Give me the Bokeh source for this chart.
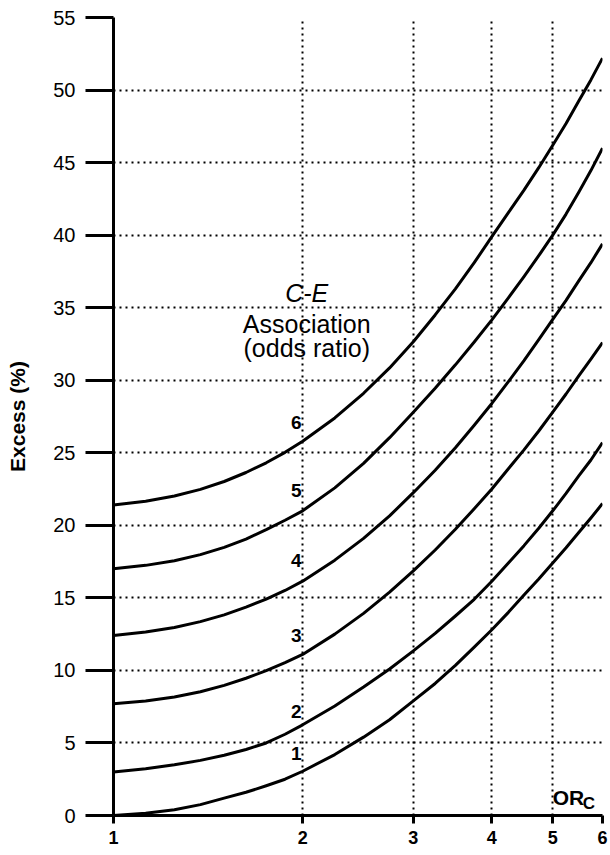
from bokeh.plotting import figure
from bokeh.models import FixedTicker, Label, Range1d, PrintfTickFormatter
from bokeh.core.properties import value
from bokeh.embed import file_html
from bokeh.resources import INLINE

# ---- data ----
or_c = [1, 1.125, 1.25, 1.375, 1.5, 1.625, 1.75, 1.875, 2, 2.25, 2.5, 2.75,
        3, 3.25, 3.5, 3.75, 4, 4.25, 4.5, 4.75, 5, 5.25, 5.5, 5.75, 6]
excess_1 = [0.0, 0.15, 0.4, 0.75, 1.2, 1.6, 2.05, 2.5, 3.05, 4.2, 5.4, 6.6,
            7.9, 9.1, 10.35, 11.6, 12.8, 14.0, 15.2, 16.3, 17.4, 18.45, 19.5, 20.5, 21.5]
excess_2 = [3.0, 3.22, 3.5, 3.8, 4.15, 4.55, 5.0, 5.6, 6.25, 7.55, 8.85, 10.1,
            11.35, 12.55, 13.75, 14.9, 16.15, 17.4, 18.6, 19.8, 21.0, 22.2, 23.4, 24.5, 25.7]
excess_3 = [7.7, 7.89, 8.17, 8.53, 8.97, 9.46, 9.98, 10.53, 11.1, 12.5, 13.93, 15.4,
            16.86, 18.3, 19.73, 21.14, 22.5, 23.9, 25.2, 26.5, 27.8, 29.05, 30.3, 31.45, 32.6]
excess_4 = [12.4, 12.64, 12.96, 13.36, 13.83, 14.36, 14.92, 15.51, 16.15, 17.6, 19.1, 20.65,
            22.25, 23.8, 25.35, 26.9, 28.4, 29.9, 31.35, 32.8, 34.2, 35.5, 36.85, 38.1, 39.4]
excess_5 = [17.0, 17.24, 17.56, 17.98, 18.48, 19.05, 19.7, 20.35, 21.0, 22.58, 24.27, 26.04,
            27.8, 29.45, 31.06, 32.63, 34.16, 35.68, 37.14, 38.58, 40.0, 41.45, 42.95, 44.45, 46.0]
excess_6 = [21.4, 21.66, 22.02, 22.48, 23.02, 23.64, 24.31, 25.03, 25.8, 27.4, 29.1, 30.85,
            32.65, 34.5, 36.3, 38.1, 39.9, 41.55, 43.1, 44.65, 46.2, 47.7, 49.25, 50.7, 52.2]

curve_names = ["1", "2", "3", "4", "5", "6"]
curve_label_x = [2, 2, 2, 2, 2, 2]
curve_label_y = [4.3, 7.2, 12.4, 17.6, 22.4, 27.1]

x_ticks = [1, 2, 3, 4, 5, 6]
y_ticks = [0, 5, 10, 15, 20, 25, 30, 35, 40, 45, 50, 55]

FONT = "Liberation Sans"

p = figure(width=610, height=855, x_axis_type="log",
           x_range=Range1d(1, 6), y_range=Range1d(0, 55),
           output_backend="svg", toolbar_location=None,
           min_border_left=113, min_border_right=8,
           min_border_top=17, min_border_bottom=40)
p.outline_line_color = None
p.background_fill_color = "white"
p.border_fill_color = "white"

# axes
xa = p.xaxis[0]
xa.ticker = FixedTicker(ticks=x_ticks)
xa.formatter = PrintfTickFormatter(format="%d")
xa.axis_line_width = 3
xa.axis_line_color = "black"
xa.major_tick_line_width = 3
xa.major_tick_line_color = "black"
xa.major_tick_out = 8
xa.major_tick_in = 0
xa.minor_tick_line_color = None
xa.major_label_text_font = FONT
xa.major_label_text_font_style = "bold"
xa.major_label_text_font_size = "18px"
xa.major_label_text_color = "black"
xa.major_label_standoff = 7

ya = p.yaxis[0]
ya.ticker = FixedTicker(ticks=y_ticks)
ya.axis_line_width = 3
ya.axis_line_color = "black"
ya.major_tick_line_width = 3
ya.major_tick_line_color = "black"
ya.major_tick_out = 28
ya.major_tick_in = 0
ya.minor_tick_line_color = None
ya.major_label_text_font = FONT
ya.major_label_text_font_size = "20px"
ya.major_label_text_color = "black"
ya.major_label_standoff = 10
ya.axis_label = "Excess (%)"
ya.axis_label_text_font = FONT
ya.axis_label_text_font_style = "bold"
ya.axis_label_text_font_size = "21px"
ya.axis_label_text_color = "black"
ya.axis_label_standoff = 21

# grids
p.xgrid.ticker = FixedTicker(ticks=x_ticks[1:])
p.ygrid.ticker = FixedTicker(ticks=y_ticks[1:])
for g in (p.xgrid, p.ygrid):
    g.grid_line_color = "black"
    g.grid_line_width = 2
    g.grid_line_dash = "2 4"

# curves
for ys in (excess_1, excess_2, excess_3, excess_4, excess_5, excess_6):
    p.line(or_c, ys, line_width=3, line_color="black", line_join="round")

# curve numbers
p.text(x=curve_label_x, y=curve_label_y, text=curve_names,
       text_align="right", text_baseline="middle", x_offset=-1,
       text_font=value(FONT), text_font_style="bold",
       text_font_size="19px", text_color="black")

# annotation block
p.add_layout(Label(x=2.03, y=36.0, text="C-E", text_align="center",
                   text_baseline="middle", text_font=FONT, text_color="black",
                   text_font_style="italic", text_font_size="25px"))
p.add_layout(Label(x=2.03, y=33.9, text="Association", text_align="center",
                   text_baseline="middle", text_font=FONT, text_color="black",
                   text_font_size="25px"))
p.add_layout(Label(x=2.03, y=32.2, text="(odds ratio)", text_align="center",
                   text_baseline="middle", text_font=FONT, text_color="black",
                   text_font_size="25px"))

# OR_C axis tag
p.add_layout(Label(x=5, y=1.24, text="OR", text_align="left",
                   text_baseline="alphabetic", text_font=FONT, text_color="black",
                   text_font_style="bold", text_font_size="21px"))
p.add_layout(Label(x=5, y=0.83, x_offset=30, text="C", text_align="left",
                   text_baseline="alphabetic", text_font=FONT, text_color="black",
                   text_font_style="bold", text_font_size="17px"))

open("out.html", "w").write(file_html(p, INLINE))
